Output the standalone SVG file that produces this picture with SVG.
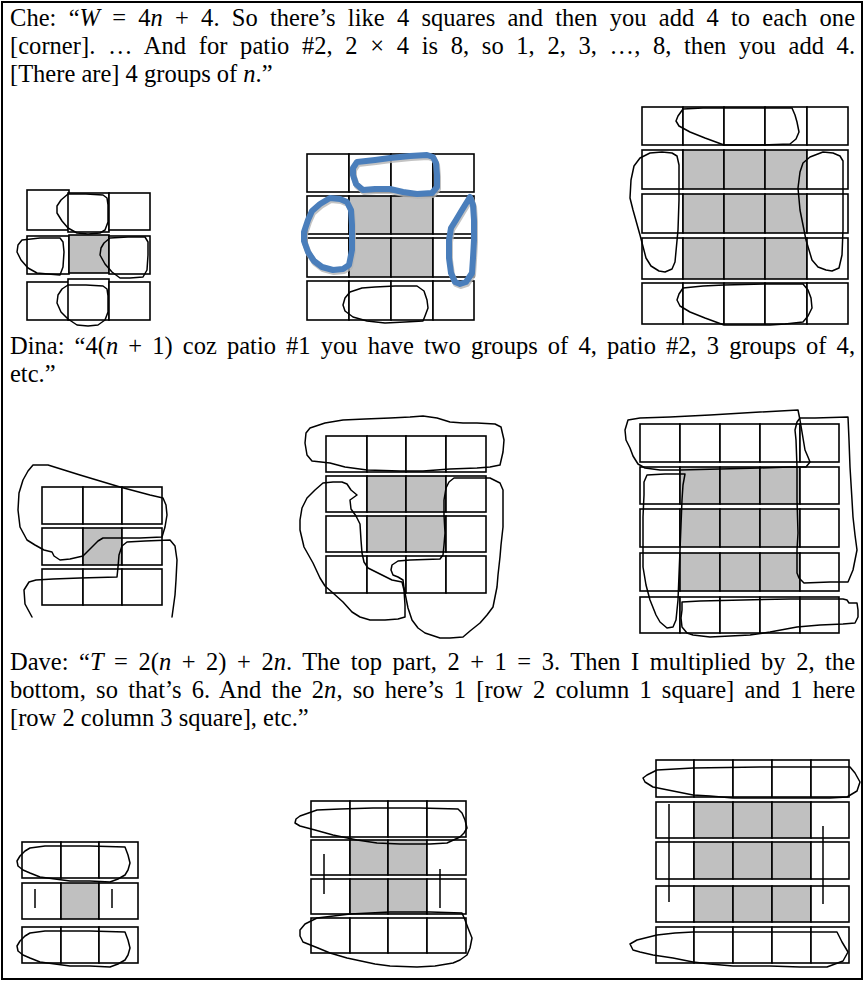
<svg xmlns="http://www.w3.org/2000/svg" xmlns:xlink="http://www.w3.org/1999/xlink" width="865" height="982" viewBox="0 0 865 982">
<style>
.t{font-family:"Liberation Serif","Times New Roman",serif;font-size:24.5px;fill:#000}
.i{font-style:italic}
.c{fill:#fff;stroke:#000;stroke-width:1.6}
.g{fill:#c0c0c0;stroke:#000;stroke-width:1.6}
.lp{fill:none;stroke:#000;stroke-width:1.5;stroke-linejoin:round;stroke-linecap:round}
.bl{fill:none;stroke:#4a7ebb;stroke-width:6;stroke-linejoin:round;stroke-linecap:round}
.sh{fill:none;stroke:#b4b4b4;stroke-width:6;stroke-linejoin:round;stroke-linecap:round;opacity:0.8}
.mk{stroke:#000;stroke-width:1.5}
</style>
<defs>
<path id="blueTop" d="M357,162 L375,160 L390,158 L410,156 L427,155 L433,157 L436,163 L437,175 L437,187 L432,193 L417,194 L403,192 L390,189 L375,189 L363,190 L356,184 L353,175 L353,168 Z"/>
<path id="blueLeft" d="M330,198 L340,199 L347,202 L351,210 L352,225 L352,250 L349,265 L343,269 L333,270 L322,267 L314,261 L308,252 L304,241 L304,232 L308,220 L312,211 L320,204 Z"/>
<path id="blueRight" d="M470,197 L473,205 L474,220 L474,240 L473,258 L472,273 L466,282 L460,284 L455,282 L451,273 L449,258 L449,240 L451,228 L456,220 L462,210 Z"/>
<path id="daveP1Loop" d="M30,848 L45,846 L60,846 L90,846 L125,847 L128,855 L130,863 L128,870 L125,875 L118,879 L110,882 L90,881 L70,881 L55,879 L40,877 L30,873 L23,870 L18,866 L17,861 L20,856 L25,851 Z"/>
</defs>

<rect x="2" y="2" width="860" height="977" fill="#fff" stroke="#000" stroke-width="2"/>

<g id="che-text">
<text class="t" x="10" y="26" word-spacing="6" textLength="845" lengthAdjust="spacing">Che: “<tspan class="i">W</tspan> = 4<tspan class="i">n</tspan> + 4. So there’s like 4 squares and then you add 4 to each one</text>
<text class="t" x="10" y="54" word-spacing="6.5" textLength="845" lengthAdjust="spacing">[corner]. … And for patio #2, 2 × 4 is 8, so 1, 2, 3, …, 8, then you add 4.</text>
<text class="t" x="10" y="82">[There are] 4 groups of <tspan class="i">n</tspan>.”</text>
</g>

<g id="che-patio1">
<rect class="c" x="27" y="190" width="42" height="40"/>
<rect class="c" x="68" y="193" width="41" height="39"/>
<rect class="c" x="109" y="193" width="41" height="37"/>
<rect class="c" x="27" y="236" width="42" height="38"/>
<rect class="g" x="69" y="235" width="40" height="38"/>
<rect class="c" x="109" y="236" width="41" height="38"/>
<rect class="c" x="27" y="282" width="42" height="38"/>
<rect class="c" x="68" y="279" width="41" height="41"/>
<rect class="c" x="109" y="282" width="41" height="38"/>
<path class="lp" d="M68,194 L86,194 L103,195 L107,198 L108,205 L108,222 L105,230 L100,233 L88,234 L77,233 L68,228 L62,221 L57,213 L57,206 L61,200 Z"/>
<path class="lp" d="M22,240 L40,238 L60,238 L63,242 L64,252 L63,267 L60,275 L48,274 L37,273 L28,268 L21,260 L17,252 L18,245 Z"/>
<path class="lp" d="M110,238 L128,237 L145,237 L148,242 L148,255 L147,270 L143,277 L130,278 L120,278 L112,272 L105,264 L100,255 L101,248 L104,243 Z"/>
<path class="lp" d="M68,285 L86,285 L103,286 L107,289 L108,296 L108,312 L105,320 L98,325 L88,326 L77,325 L68,319 L61,312 L57,303 L58,295 L62,289 Z"/>
</g>

<g id="che-patio2">
<rect class="c" x="307" y="154" width="42" height="38"/><rect class="c" x="349" y="154" width="42" height="38"/><rect class="c" x="391" y="154" width="42" height="38"/><rect class="c" x="433" y="154" width="41" height="38"/>
<rect class="c" x="307" y="196" width="42" height="38"/><rect class="g" x="349" y="196" width="42" height="38"/><rect class="g" x="391" y="196" width="42" height="38"/><rect class="c" x="433" y="196" width="41" height="38"/>
<rect class="c" x="307" y="238" width="42" height="39"/><rect class="g" x="349" y="238" width="42" height="39"/><rect class="g" x="391" y="238" width="42" height="39"/><rect class="c" x="433" y="238" width="41" height="39"/>
<rect class="c" x="307" y="281" width="42" height="39"/><rect class="c" x="349" y="281" width="42" height="39"/><rect class="c" x="391" y="281" width="42" height="39"/><rect class="c" x="433" y="281" width="41" height="39"/>
<use xlink:href="#blueTop" class="sh" transform="translate(1,2)"/>
<use xlink:href="#blueLeft" class="sh" transform="translate(1,2)"/>
<use xlink:href="#blueRight" class="sh" transform="translate(1,2)"/>
<use xlink:href="#blueTop" class="bl"/>
<use xlink:href="#blueLeft" class="bl"/>
<use xlink:href="#blueRight" class="bl"/>
<path class="lp" d="M350,292 L362,288 L375,287 L395,286 L417,286 L424,291 L427,300 L428,308 L425,316 L423,321 L405,322 L385,323 L367,321 L353,317 L345,311 L343,305 L345,298 Z"/>
</g>

<g id="che-patio3">
<rect class="c" x="642" y="107" width="41" height="38"/><rect class="c" x="683" y="107" width="41" height="38"/><rect class="c" x="724" y="107" width="41" height="38"/><rect class="c" x="765" y="107" width="42" height="38"/><rect class="c" x="807" y="107" width="41" height="38"/>
<rect class="c" x="642" y="150" width="41" height="39"/><rect class="g" x="683" y="150" width="41" height="39"/><rect class="g" x="724" y="150" width="41" height="39"/><rect class="g" x="765" y="150" width="42" height="39"/><rect class="c" x="807" y="150" width="41" height="39"/>
<rect class="c" x="642" y="194" width="41" height="39"/><rect class="g" x="683" y="194" width="41" height="39"/><rect class="g" x="724" y="194" width="41" height="39"/><rect class="g" x="765" y="194" width="42" height="39"/><rect class="c" x="807" y="194" width="41" height="39"/>
<rect class="c" x="642" y="238" width="41" height="41"/><rect class="g" x="683" y="238" width="41" height="41"/><rect class="g" x="724" y="238" width="41" height="41"/><rect class="g" x="765" y="238" width="42" height="41"/><rect class="c" x="807" y="238" width="41" height="41"/>
<rect class="c" x="642" y="283" width="41" height="41"/><rect class="c" x="683" y="283" width="41" height="41"/><rect class="c" x="724" y="283" width="41" height="41"/><rect class="c" x="765" y="283" width="42" height="41"/><rect class="c" x="807" y="283" width="41" height="41"/>
<path class="lp" d="M683,109 L703,108 L723,108 L760,108 L792,108 L795,115 L797,122 L799,132 L796,139 L790,144 L760,145 L724,145 L705,138 L690,132 L679,126 L676,121 L678,116 Z"/>
<path class="lp" d="M683,288 L703,286 L724,285 L765,284 L803,284 L808,290 L811,298 L812,308 L808,316 L803,322 L785,324 L770,325 L745,325 L724,325 L705,318 L690,312 L680,306 L677,300 L679,294 Z"/>
<path class="lp" d="M650,153 L662,152 L672,153 L677,156 L679,165 L679,200 L678,230 L675,262 L672,269 L665,272 L659,271 L651,266 L646,258 L640,235 L633,210 L630,198 L631,180 L634,166 L640,158 Z"/>
<path class="lp" d="M823,152 L833,153 L840,156 L843,161 L843,195 L843,230 L842,255 L839,268 L832,271 L826,270 L818,267 L812,260 L806,240 L800,210 L798,188 L800,172 L803,163 L810,157 Z"/>
</g>

<g id="dina-text">
<text class="t" x="10" y="354" word-spacing="4" textLength="845" lengthAdjust="spacing">Dina: “4(<tspan class="i">n</tspan> + 1) coz patio #1 you have two groups of 4, patio #2, 3 groups of 4,</text>
<text class="t" x="10" y="382">etc.”</text>
</g>

<g id="dina-patio1">
<rect class="c" x="42" y="487" width="41" height="37"/><rect class="c" x="83" y="487" width="39" height="37"/><rect class="c" x="122" y="487" width="40" height="37"/>
<rect class="c" x="42" y="528" width="41" height="37"/><rect class="g" x="83" y="528" width="39" height="37"/><rect class="c" x="122" y="528" width="40" height="37"/>
<rect class="c" x="42" y="569" width="41" height="36"/><rect class="c" x="83" y="569" width="39" height="36"/><rect class="c" x="122" y="569" width="40" height="36"/>
<path class="lp" d="M33,465 L48,465 L80,475 L120,487 L150,495 L163,498 L166,505 L167,515 L165,527 L162,537 L140,538 L103,538 L98,541 L90,549 L83,556 L70,559 L60,560 L54,556 L52,552 L44,550 L35,545 L27,540 L20,527 L18,510 L19,493 L23,480 L28,471 Z"/>
<path class="lp" d="M32,617 L25,604 L24,590 L29,582 L36,580 L53,579 L80,578 L117,577 L118,567 L119,555 L122,546 L127,542 L145,541 L170,540 L175,546 L177,560 L176,580 L175,595 L172,617"/>
</g>

<g id="dina-patio2">
<rect class="c" x="326" y="436" width="41" height="36"/><rect class="c" x="367" y="436" width="39" height="36"/><rect class="c" x="406" y="436" width="40" height="36"/><rect class="c" x="446" y="436" width="40" height="36"/>
<rect class="c" x="326" y="476" width="41" height="36"/><rect class="g" x="367" y="476" width="39" height="36"/><rect class="g" x="406" y="476" width="40" height="36"/><rect class="c" x="446" y="476" width="40" height="36"/>
<rect class="c" x="326" y="516" width="41" height="36"/><rect class="g" x="367" y="516" width="39" height="36"/><rect class="g" x="406" y="516" width="40" height="36"/><rect class="c" x="446" y="516" width="40" height="36"/>
<rect class="c" x="326" y="556" width="41" height="37"/><rect class="c" x="367" y="556" width="39" height="37"/><rect class="c" x="406" y="556" width="40" height="37"/><rect class="c" x="446" y="556" width="40" height="37"/>
<path class="lp" d="M310,428 L325,423 L343,420 L365,419 L390,418 L410,417 L423,416 L437,418 L450,422 L463,423 L477,423 L495,424 L501,427 L504,440 L503,452 L500,465 L490,467 L477,468 L450,469 L423,471 L400,471 L367,470 L345,467 L330,463 L312,461 L307,455 L305,443 L306,433 Z"/>
<path class="lp" d="M323,483 L333,482 L342,482 L347,484 L351,490 L357,495 L350,500 L351,509 L356,516 L360,524 L361,540 L362,553 L364,562 L368,568 L380,574 L392,580 L402,582 L404,590 L405,605 L405,617 L398,619 L385,620 L370,620 L360,617 L352,612 L343,602 L333,593 L325,586 L320,578 L313,563 L304,547 L300,530 L300,520 L302,508 L307,498 L315,490 Z"/>
<path class="lp" d="M454,478 L470,478 L490,478 L500,483 L503,490 L503,510 L503,527 L501,545 L500,557 L498,575 L497,587 L493,607 L487,615 L480,623 L470,631 L463,637 L450,638 L440,638 L425,633 L418,628 L412,620 L408,608 L406,598 L404,588 L403,580 L398,577 L393,575 L391,570 L392,565 L398,561 L410,560 L440,559 L443,555 L444,545 L445,533 L444,515 L444,500 L446,488 L449,482 Z"/>
</g>

<g id="dina-patio3">
<rect class="c" x="640" y="424" width="40" height="38"/><rect class="c" x="680" y="424" width="40" height="38"/><rect class="c" x="720" y="424" width="40" height="38"/><rect class="c" x="760" y="424" width="40" height="38"/><rect class="c" x="800" y="424" width="39" height="38"/>
<rect class="c" x="640" y="467" width="40" height="37"/><rect class="g" x="680" y="467" width="40" height="37"/><rect class="g" x="720" y="467" width="40" height="37"/><rect class="g" x="760" y="467" width="40" height="37"/><rect class="c" x="800" y="467" width="39" height="37"/>
<rect class="c" x="640" y="509" width="40" height="38"/><rect class="g" x="680" y="509" width="40" height="38"/><rect class="g" x="720" y="509" width="40" height="38"/><rect class="g" x="760" y="509" width="40" height="38"/><rect class="c" x="800" y="509" width="39" height="38"/>
<rect class="c" x="640" y="553" width="40" height="38"/><rect class="g" x="680" y="553" width="40" height="38"/><rect class="g" x="720" y="553" width="40" height="38"/><rect class="g" x="760" y="553" width="40" height="38"/><rect class="c" x="800" y="553" width="39" height="38"/>
<rect class="c" x="640" y="597" width="40" height="36"/><rect class="c" x="680" y="597" width="40" height="36"/><rect class="c" x="720" y="597" width="40" height="36"/><rect class="c" x="760" y="597" width="40" height="36"/><rect class="c" x="800" y="597" width="39" height="36"/>
<path class="lp" d="M628,420 L640,418 L670,417 L710,415 L760,412 L798,410 L800,420 L803,438 L805,450 L808,457 L810,462 L806,467 L790,467 L760,468 L720,469 L680,470 L660,470 L645,468 L638,464 L633,456 L630,448 L626,440 L625,430 Z"/>
<path class="lp" d="M797,422 L800,418 L815,418 L848,417 L849,440 L850,467 L852,500 L853,517 L855,535 L857,550 L853,570 L848,582 L830,582 L804,583 L799,578 L797,573 L797,550 L798,533 L797,500 L797,467 L796,440 L795,430 Z"/>
<path class="lp" d="M647,475 L665,474 L685,474 L683,485 L682,500 L681,525 L680,550 L679,575 L678,600 L676,620 L673,627 L667,628 L660,622 L656,615 L650,600 L646,585 L643,567 L643,540 L643,517 L644,495 L644,482 Z"/>
<path class="lp" d="M682,602 L700,601 L743,600 L790,599 L843,599 L847,600 L849,603 L857,603 L858,610 L858,617 L855,623 L843,624 L820,625 L797,627 L770,632 L750,635 L730,636 L710,637 L693,635 L687,633 L682,627 L681,618 L682,610 Z"/>
</g>

<g id="dave-text">
<text class="t" x="10" y="670" word-spacing="4.4" textLength="845" lengthAdjust="spacing">Dave: “<tspan class="i">T</tspan> = 2(<tspan class="i">n</tspan> + 2) + 2<tspan class="i">n</tspan>. The top part, 2 + 1 = 3. Then I multiplied by 2, the</text>
<text class="t" x="10" y="698" word-spacing="4" textLength="845" lengthAdjust="spacing">bottom, so that’s 6. And the 2<tspan class="i">n</tspan>, so here’s 1 [row 2 column 1 square] and 1 here</text>
<text class="t" x="10" y="726">[row 2 column 3 square], etc.”</text>
</g>

<g id="dave-patio1">
<rect class="c" x="22" y="842" width="39" height="36"/><rect class="c" x="61" y="842" width="38" height="36"/><rect class="c" x="99" y="842" width="39" height="36"/>
<rect class="c" x="22" y="883" width="39" height="36"/><rect class="g" x="61" y="883" width="38" height="36"/><rect class="c" x="99" y="883" width="39" height="36"/>
<rect class="c" x="22" y="927" width="39" height="36"/><rect class="c" x="61" y="927" width="38" height="36"/><rect class="c" x="99" y="927" width="39" height="36"/>
<line class="mk" x1="35" y1="889" x2="35" y2="908"/>
<line class="mk" x1="112" y1="889" x2="112" y2="908"/>
<use xlink:href="#daveP1Loop" class="lp"/>
<use xlink:href="#daveP1Loop" class="lp" transform="translate(0,85)"/>
</g>

<g id="dave-patio2">
<rect class="c" x="311" y="801" width="39" height="36"/><rect class="c" x="350" y="801" width="38" height="36"/><rect class="c" x="388" y="801" width="39" height="36"/><rect class="c" x="427" y="801" width="39" height="36"/>
<rect class="c" x="311" y="840" width="39" height="35"/><rect class="g" x="350" y="840" width="38" height="35"/><rect class="g" x="388" y="840" width="39" height="35"/><rect class="c" x="427" y="840" width="39" height="35"/>
<rect class="c" x="311" y="879" width="39" height="35"/><rect class="g" x="350" y="879" width="38" height="35"/><rect class="g" x="388" y="879" width="39" height="35"/><rect class="c" x="427" y="879" width="39" height="35"/>
<rect class="c" x="311" y="918" width="39" height="35"/><rect class="c" x="350" y="918" width="38" height="35"/><rect class="c" x="388" y="918" width="39" height="35"/><rect class="c" x="427" y="918" width="39" height="35"/>
<line class="mk" x1="324" y1="854" x2="324" y2="894"/>
<line class="mk" x1="440" y1="869" x2="440" y2="908"/>
<path class="lp" d="M317,810 L340,809 L373,808 L420,808 L458,809 L462,813 L465,820 L467,828 L464,833 L460,837 L447,843 L430,844 L400,844 L377,843 L357,840 L333,835 L315,830 L300,826 L295,823 L296,819 L300,816 Z"/>
<path class="lp" d="M317,918 L350,914 L390,912 L430,912 L462,913 L465,920 L468,928 L472,938 L470,948 L467,955 L460,960 L453,963 L435,966 L417,967 L390,966 L375,964 L347,958 L330,953 L318,948 L303,942 L300,936 L300,930 L305,924 Z"/>
</g>

<g id="dave-patio3">
<rect class="c" x="656" y="760" width="38" height="37"/><rect class="c" x="694" y="760" width="39" height="37"/><rect class="c" x="733" y="760" width="39" height="37"/><rect class="c" x="772" y="760" width="39" height="37"/><rect class="c" x="811" y="760" width="38" height="37"/>
<rect class="c" x="656" y="802" width="38" height="36"/><rect class="g" x="694" y="802" width="39" height="36"/><rect class="g" x="733" y="802" width="39" height="36"/><rect class="g" x="772" y="802" width="39" height="36"/><rect class="c" x="811" y="802" width="38" height="36"/>
<rect class="c" x="656" y="842" width="38" height="37"/><rect class="g" x="694" y="842" width="39" height="37"/><rect class="g" x="733" y="842" width="39" height="37"/><rect class="g" x="772" y="842" width="39" height="37"/><rect class="c" x="811" y="842" width="38" height="37"/>
<rect class="c" x="656" y="886" width="38" height="36"/><rect class="g" x="694" y="886" width="39" height="36"/><rect class="g" x="733" y="886" width="39" height="36"/><rect class="g" x="772" y="886" width="39" height="36"/><rect class="c" x="811" y="886" width="38" height="36"/>
<rect class="c" x="656" y="927" width="38" height="36"/><rect class="c" x="694" y="927" width="39" height="36"/><rect class="c" x="733" y="927" width="39" height="36"/><rect class="c" x="772" y="927" width="39" height="36"/><rect class="c" x="811" y="927" width="38" height="36"/>
<line class="mk" x1="669" y1="804" x2="669" y2="902"/>
<line class="mk" x1="823" y1="826" x2="823" y2="904"/>
<path class="lp" d="M657,770 L675,769 L693,768 L760,767 L810,767 L850,767 L855,773 L860,782 L857,791 L847,797 L830,798 L807,798 L770,798 L733,798 L710,796 L693,795 L673,791 L653,787 L645,782 L643,778 L647,775 Z"/>
<path class="lp" d="M657,935 L675,933 L693,932 L760,932 L800,932 L837,932 L842,942 L848,952 L843,961 L827,967 L800,967 L770,966 L733,966 L710,964 L693,962 L673,958 L653,955 L640,952 L633,950 L630,944 L637,940 Z"/>
</g>
</svg>
